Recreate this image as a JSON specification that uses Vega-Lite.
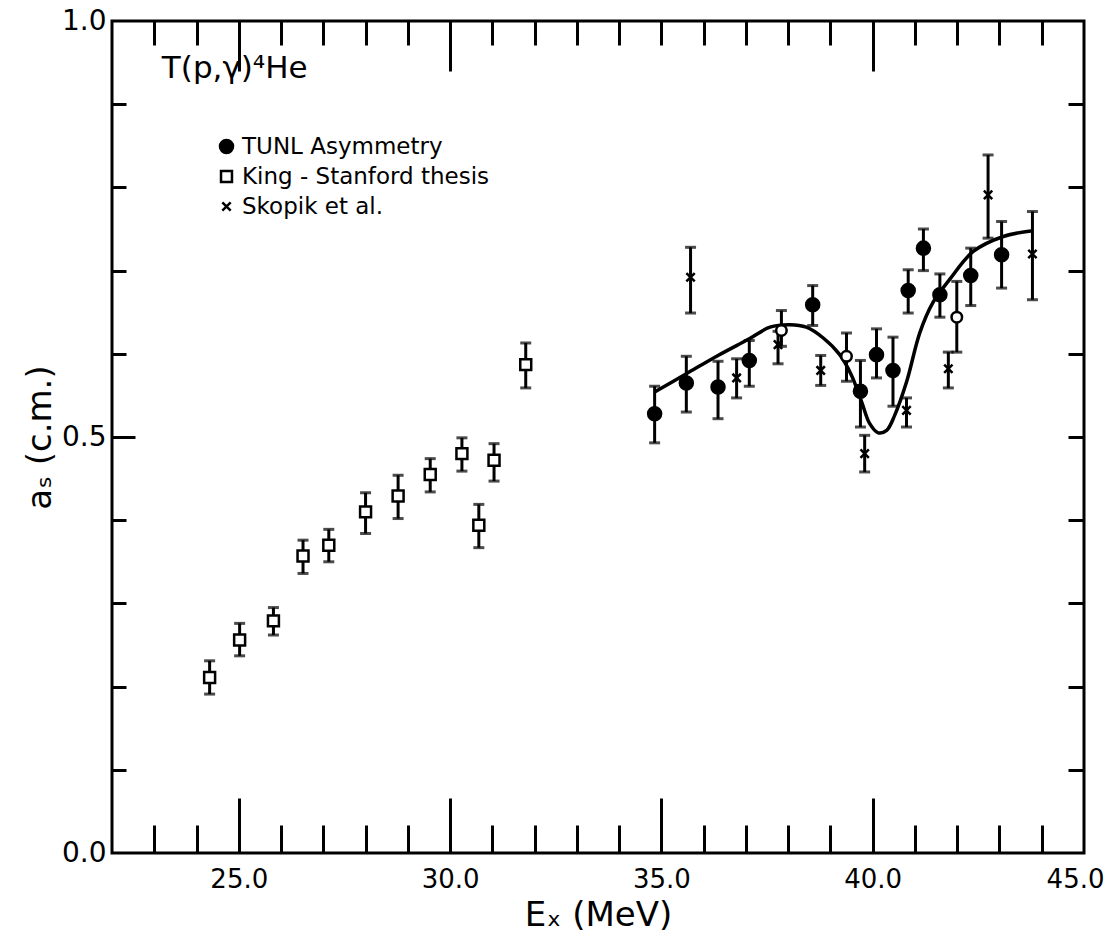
{
  "$schema": "https://vega.github.io/schema/vega-lite/v6.json",
  "autosize": "none",
  "width": 972,
  "height": 832,
  "padding": {"left": 112, "top": 21, "right": 26, "bottom": 85},
  "background": "white",
  "datasets": {
    "points": [
      {"series": "TUNL Asymmetry", "E": 34.84, "a": 0.528, "lo": 0.493, "hi": 0.561},
      {"series": "TUNL Asymmetry", "E": 35.59, "a": 0.565, "lo": 0.530, "hi": 0.597},
      {"series": "TUNL Asymmetry", "E": 36.34, "a": 0.560, "lo": 0.522, "hi": 0.591},
      {"series": "TUNL Asymmetry", "E": 37.08, "a": 0.592, "lo": 0.561, "hi": 0.616},
      {"series": "TUNL Asymmetry", "E": 38.58, "a": 0.659, "lo": 0.634, "hi": 0.682},
      {"series": "TUNL Asymmetry", "E": 39.71, "a": 0.555, "lo": 0.512, "hi": 0.592},
      {"series": "TUNL Asymmetry", "E": 40.09, "a": 0.599, "lo": 0.571, "hi": 0.630},
      {"series": "TUNL Asymmetry", "E": 40.48, "a": 0.580, "lo": 0.537, "hi": 0.620},
      {"series": "TUNL Asymmetry", "E": 40.84, "a": 0.676, "lo": 0.649, "hi": 0.701},
      {"series": "TUNL Asymmetry", "E": 41.20, "a": 0.727, "lo": 0.700, "hi": 0.750},
      {"series": "TUNL Asymmetry", "E": 41.59, "a": 0.671, "lo": 0.644, "hi": 0.696},
      {"series": "TUNL Asymmetry", "E": 42.32, "a": 0.694, "lo": 0.658, "hi": 0.727},
      {"series": "TUNL Asymmetry", "E": 43.05, "a": 0.719, "lo": 0.679, "hi": 0.759},
      {"series": "TUNL open symbol", "E": 37.84, "a": 0.628, "lo": 0.609, "hi": 0.652},
      {"series": "TUNL open symbol", "E": 39.38, "a": 0.597, "lo": 0.567, "hi": 0.625},
      {"series": "TUNL open symbol", "E": 41.99, "a": 0.644, "lo": 0.602, "hi": 0.687},
      {"series": "King - Stanford thesis", "E": 24.31, "a": 0.211, "lo": 0.191, "hi": 0.231},
      {"series": "King - Stanford thesis", "E": 25.02, "a": 0.256, "lo": 0.237, "hi": 0.276},
      {"series": "King - Stanford thesis", "E": 25.82, "a": 0.279, "lo": 0.262, "hi": 0.295},
      {"series": "King - Stanford thesis", "E": 26.52, "a": 0.357, "lo": 0.336, "hi": 0.376},
      {"series": "King - Stanford thesis", "E": 27.13, "a": 0.370, "lo": 0.350, "hi": 0.389},
      {"series": "King - Stanford thesis", "E": 28.00, "a": 0.410, "lo": 0.384, "hi": 0.433},
      {"series": "King - Stanford thesis", "E": 28.77, "a": 0.429, "lo": 0.402, "hi": 0.454},
      {"series": "King - Stanford thesis", "E": 29.53, "a": 0.455, "lo": 0.434, "hi": 0.474},
      {"series": "King - Stanford thesis", "E": 30.28, "a": 0.480, "lo": 0.459, "hi": 0.499},
      {"series": "King - Stanford thesis", "E": 30.68, "a": 0.394, "lo": 0.367, "hi": 0.419},
      {"series": "King - Stanford thesis", "E": 31.04, "a": 0.472, "lo": 0.447, "hi": 0.492},
      {"series": "King - Stanford thesis", "E": 31.79, "a": 0.587, "lo": 0.559, "hi": 0.613},
      {"series": "Skopik et al.", "E": 35.69, "a": 0.692, "lo": 0.649, "hi": 0.728},
      {"series": "Skopik et al.", "E": 36.78, "a": 0.571, "lo": 0.547, "hi": 0.594},
      {"series": "Skopik et al.", "E": 37.76, "a": 0.611, "lo": 0.588, "hi": 0.627},
      {"series": "Skopik et al.", "E": 38.77, "a": 0.580, "lo": 0.562, "hi": 0.598},
      {"series": "Skopik et al.", "E": 39.81, "a": 0.480, "lo": 0.458, "hi": 0.502},
      {"series": "Skopik et al.", "E": 40.80, "a": 0.532, "lo": 0.512, "hi": 0.547},
      {"series": "Skopik et al.", "E": 41.79, "a": 0.582, "lo": 0.559, "hi": 0.602},
      {"series": "Skopik et al.", "E": 42.73, "a": 0.791, "lo": 0.739, "hi": 0.839},
      {"series": "Skopik et al.", "E": 43.78, "a": 0.720, "lo": 0.665, "hi": 0.771}
    ],
    "fit": [
      {"E": 34.84, "a": 0.554}, {"E": 35.59, "a": 0.576}, {"E": 36.34, "a": 0.598},
      {"E": 37.08, "a": 0.618}, {"E": 37.57, "a": 0.632}, {"E": 38.04, "a": 0.635},
      {"E": 38.43, "a": 0.632}, {"E": 38.83, "a": 0.619}, {"E": 39.22, "a": 0.599},
      {"E": 39.50, "a": 0.574}, {"E": 39.74, "a": 0.542}, {"E": 39.93, "a": 0.516},
      {"E": 40.13, "a": 0.505}, {"E": 40.33, "a": 0.508}, {"E": 40.52, "a": 0.526},
      {"E": 40.80, "a": 0.566}, {"E": 41.12, "a": 0.626}, {"E": 41.43, "a": 0.662},
      {"E": 41.83, "a": 0.690}, {"E": 42.38, "a": 0.723}, {"E": 43.09, "a": 0.741},
      {"E": 43.78, "a": 0.748}
    ]
  },
  "layer": [
    {
      "data": {"name": "fit"},
      "mark": {"type": "line", "color": "black", "strokeWidth": 3.5, "interpolate": "catmull-rom"},
      "encoding": {
        "x": {"field": "E", "type": "quantitative", "scale": {"domain": [22, 45], "nice": false, "zero": false},
          "axis": {"orient": "bottom", "values": [25, 30, 35, 40, 45], "format": ".1f", "ticks": false, "tickSize": 0,
            "labelFontSize": 26, "labelPadding": 13, "labelOverlap": false, "labelFlush": true, "labelFlushOffset": 20,
            "title": "Eₓ  (MeV)", "titleFontSize": 34, "titlePadding": 6}},
        "y": {"field": "a", "type": "quantitative", "scale": {"domain": [0, 1], "nice": false, "zero": false},
          "axis": {"orient": "left", "values": [0, 0.5, 1], "format": ".1f", "ticks": false, "tickSize": 0,
            "labelFontSize": 28, "labelPadding": 6, "labelOverlap": false, "labelFlush": false,
            "title": "aₛ (c.m.)", "titleFontSize": 34, "titlePadding": 4}}
      }
    },
    {
      "data": {"name": "points"},
      "mark": {"type": "rule", "color": "black", "strokeWidth": 3},
      "encoding": {
        "x": {"field": "E", "type": "quantitative", "scale": {"domain": [22, 45], "nice": false, "zero": false},
          "axis": {"orient": "bottom", "values": [25, 30, 35, 40], "tickSize": -55, "tickWidth": 3, "labels": false, "title": null}},
        "y": {"field": "lo", "type": "quantitative", "scale": {"domain": [0, 1], "nice": false, "zero": false},
          "axis": {"orient": "left", "values": [0.5], "tickSize": -23, "tickWidth": 3, "labels": false, "title": null}},
        "y2": {"field": "hi"}
      }
    },
    {
      "data": {"name": "points"},
      "transform": [{"fold": ["lo", "hi"], "as": ["end", "val"]}],
      "mark": {"type": "tick", "orient": "horizontal", "color": "black", "size": 11, "thickness": 3},
      "encoding": {
        "x": {"field": "E", "type": "quantitative", "scale": {"domain": [22, 45], "nice": false, "zero": false},
          "axis": {"orient": "bottom", "values": [23, 24, 26, 27, 28, 29, 31, 32, 33, 34, 36, 37, 38, 39, 41, 42, 43, 44],
            "tickSize": -28, "tickWidth": 3, "labels": false, "title": null}},
        "y": {"field": "val", "type": "quantitative", "scale": {"domain": [0, 1], "nice": false, "zero": false},
          "axis": {"orient": "left", "values": [0.1, 0.2, 0.3, 0.4, 0.6, 0.7, 0.8, 0.9],
            "tickSize": -14, "tickWidth": 3, "labels": false, "title": null}}
      }
    },
    {
      "data": {"name": "points"},
      "transform": [{"filter": "datum.series !== 'TUNL open symbol'"}],
      "mark": {"type": "point", "filled": true, "strokeWidth": 2.5, "opacity": 1},
      "encoding": {
        "x": {"field": "E", "type": "quantitative", "scale": {"domain": [22, 45], "nice": false, "zero": false},
          "axis": {"orient": "top", "values": [23, 24, 26, 27, 28, 29, 31, 32, 33, 34, 35, 36, 37, 38, 39, 41, 42, 43, 44],
            "tickSize": -24, "tickWidth": 3, "labels": false, "title": null}},
        "y": {"field": "a", "type": "quantitative", "scale": {"domain": [0, 1], "nice": false, "zero": false},
          "axis": {"orient": "right", "values": [0.1, 0.2, 0.3, 0.4, 0.5, 0.6, 0.7, 0.8, 0.9],
            "tickSize": -16, "tickWidth": 3, "labels": false, "title": null}},
        "shape": {"field": "series", "type": "nominal",
          "scale": {"domain": ["TUNL Asymmetry", "King - Stanford thesis", "Skopik et al."],
            "range": ["circle", "square", "M-1,-1L1,1M-1,1L1,-1"]},
          "legend": {"title": null, "orient": "none", "legendX": 103, "legendY": 114}},
        "fill": {"field": "series", "type": "nominal",
          "scale": {"domain": ["TUNL Asymmetry", "King - Stanford thesis", "Skopik et al."],
            "range": ["black", "white", "black"]},
          "legend": {"title": null, "orient": "none", "legendX": 103, "legendY": 114}},
        "stroke": {"field": "series", "type": "nominal",
          "scale": {"domain": ["TUNL Asymmetry", "King - Stanford thesis", "Skopik et al."],
            "range": ["black", "black", "black"]},
          "legend": {"title": null, "orient": "none", "legendX": 103, "legendY": 114}},
        "size": {"field": "series", "type": "nominal",
          "scale": {"domain": ["TUNL Asymmetry", "King - Stanford thesis", "Skopik et al."],
            "range": [170, 70, 100]},
          "legend": {"title": null, "orient": "none", "legendX": 103, "legendY": 114}}
      }
    },
    {
      "data": {"name": "points"},
      "transform": [{"filter": "datum.series === 'TUNL open symbol'"}],
      "mark": {"type": "point", "shape": "circle", "filled": true, "fill": "white", "stroke": "black", "strokeWidth": 2.5, "size": 110, "opacity": 1},
      "encoding": {
        "x": {"field": "E", "type": "quantitative", "scale": {"domain": [22, 45], "nice": false, "zero": false},
          "axis": {"orient": "top", "values": [25, 30, 40], "tickSize": -50, "tickWidth": 3, "labels": false, "title": null}},
        "y": {"field": "a", "type": "quantitative", "scale": {"domain": [0, 1], "nice": false, "zero": false}, "axis": null}
      }
    },
    {
      "data": {"values": [{"label": "T(p,γ)⁴He"}]},
      "mark": {"type": "text", "align": "left", "baseline": "alphabetic",
        "font": "DejaVu Sans", "fontSize": 31, "color": "black"},
      "encoding": {
        "text": {"field": "label"},
        "x": {"datum": 23.18, "type": "quantitative", "scale": {"domain": [22, 45], "nice": false, "zero": false}, "axis": null},
        "y": {"datum": 0.931, "type": "quantitative", "scale": {"domain": [0, 1], "nice": false, "zero": false}, "axis": null}
      }
    }
  ],
  "resolve": {"axis": {"x": "independent", "y": "independent"}},
  "config": {
    "view": {"stroke": "black", "strokeWidth": 3},
    "axis": {
      "labelFont": "DejaVu Sans", "titleFont": "DejaVu Sans", "labelColor": "black", "titleColor": "black",
      "tickColor": "black", "domain": false, "grid": false, "titleFontWeight": "normal"
    },
    "legend": {
      "padding": 0,
      "labelFont": "DejaVu Sans", "labelFontSize": 23, "labelColor": "black", "labelOffset": 4, "labelLimit": 400,
      "rowPadding": 6, "symbolStrokeWidth": 2.5, "symbolOpacity": 1
    }
  }
}
